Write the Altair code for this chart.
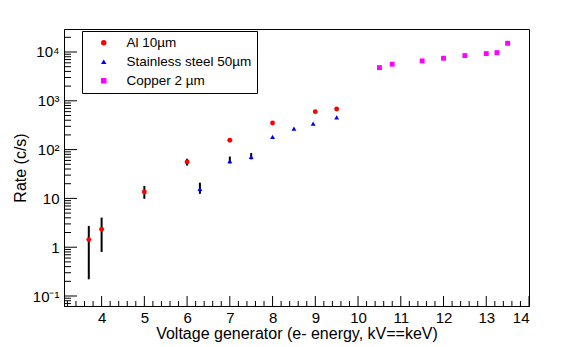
import altair as alt
import pandas as pd

# ---- data ----
series_names = ["Al 10µm", "Stainless steel 50µm", "Copper 2 µm"]
series_colors = ["#ff0000", "#0000ff", "#ff00ff"]
series_shapes = ["circle", "triangle-up", "square"]

al_x = [3.7, 4.0, 5.0, 6.0, 7.0, 8.0, 9.0, 9.5]
al_y = [1.43, 2.34, 13.6, 56, 156, 350, 600, 680]
al_lo = [0.22, 0.80, 9.8, 47, 156, 350, 600, 680]
al_hi = [2.73, 4.04, 18.0, 65, 156, 350, 600, 680]

steel_x = [6.3, 7.0, 7.5, 8.0, 8.5, 8.95, 9.5]
steel_y = [15.7, 57.8, 71, 182, 268, 342, 460]
steel_lo = [12.4, 52, 63, 182, 268, 342, 460]
steel_hi = [21.0, 72, 85, 182, 268, 342, 460]

cu_x = [10.5, 10.8, 11.5, 12.0, 12.5, 13.0, 13.25, 13.5]
cu_y = [4790, 5630, 6570, 7460, 8440, 9270, 9720, 15100]

x_major = [4, 5, 6, 7, 8, 9, 10, 11, 12, 13, 14]
x_minor = [round(3.2 + 0.2 * i, 1) for i in range(55) if round(3.2 + 0.2 * i, 1) not in x_major]
y_major = [0.1, 1, 10, 100, 1000, 10000]
y_minor = [m * 10.0 ** k for k in range(-2, 5) for m in range(2, 10)
           if 0.063 <= m * 10.0 ** k <= 29000]

x_domain = [3.12, 14.0]
y_domain = [0.0624, 29600]

W, H = 465, 277

rows = []
for name, xs, ys, lo, hi in [
    (series_names[0], al_x, al_y, al_lo, al_hi),
    (series_names[1], steel_x, steel_y, steel_lo, steel_hi),
    (series_names[2], cu_x, cu_y, cu_y, cu_y),
]:
    for a, b, c, d in zip(xs, ys, lo, hi):
        rows.append({"series": name, "x": a, "y": b, "lo": c, "hi": d})
df = pd.DataFrame(rows)

xscale = alt.Scale(domain=x_domain, nice=False, zero=False)
yscale = alt.Scale(type="log", domain=y_domain, nice=False)

label_expr = ("datum.value == 10000 ? '10⁴' : datum.value == 1000 ? '10³' : "
              "datum.value == 100 ? '10²' : datum.value == 10 ? '10' : "
              "datum.value == 1 ? '1' : '10⁻¹'")

font = "Liberation Sans"
XT = "Voltage generator (e- energy, kV==keV)"
YT = "Rate (c/s)"

x_axis = alt.Axis(title=XT, values=x_major, tickSize=0, grid=False,
                  labelFontSize=15, labelPadding=4, labelFont=font,
                  titleFont=font, titleFontSize=16, titleFontWeight="normal",
                  titleX=W / 2, titleY=27, titleBaseline="middle",
                  domainColor="black", labelColor="black", titleColor="black")
y_axis = alt.Axis(title=YT, values=y_major, labelExpr=label_expr,
                  tickSize=0, grid=False, labelFontSize=15, labelPadding=5,
                  labelFont=font, titleFont=font, titleFontSize=16,
                  titleFontWeight="normal", titleX=-44, titleY=H / 2,
                  titleAngle=-90, titleAlign="center", titleBaseline="middle",
                  domainColor="black", labelColor="black", titleColor="black")

errbars = alt.Chart(df).mark_rule(color="black", strokeWidth=2).encode(
    x=alt.X("x:Q", scale=xscale, axis=x_axis, title=XT),
    y=alt.Y("lo:Q", scale=yscale, axis=y_axis, title=YT),
    y2="hi:Q",
)

points = alt.Chart(df).mark_point(filled=True, size=24, opacity=1).encode(
    x=alt.X("x:Q", scale=xscale, axis=x_axis, title=XT),
    y=alt.Y("y:Q", scale=yscale, axis=y_axis, title=YT),
    color=alt.Color("series:N", scale=alt.Scale(domain=series_names, range=series_colors),
                    legend=alt.Legend(title=None, orient="none", legendX=18, legendY=2,
                                      strokeColor="black", fillColor="white", padding=5,
                                      labelFontSize=13.5, labelFont=font, labelColor="black",
                                      symbolSize=30, rowPadding=4, symbolOffset=10,
                                      labelOffset=16)),
    shape=alt.Shape("series:N", scale=alt.Scale(domain=series_names, range=series_shapes),
                    legend=None),
)

ytick_major = alt.Chart(pd.DataFrame({"v": y_major})).mark_rule(color="black").encode(
    y=alt.Y("v:Q", scale=yscale, axis=y_axis, title=YT), x=alt.value(0), x2=alt.value(13))
ytick_minor = alt.Chart(pd.DataFrame({"v": y_minor})).mark_rule(color="black").encode(
    y=alt.Y("v:Q", scale=yscale, axis=y_axis, title=YT), x=alt.value(0), x2=alt.value(7))
xtick_major = alt.Chart(pd.DataFrame({"v": x_major})).mark_rule(color="black").encode(
    x=alt.X("v:Q", scale=xscale, axis=x_axis, title=XT),
    y=alt.value(H), y2=alt.value(H - 10))
xtick_minor = alt.Chart(pd.DataFrame({"v": x_minor})).mark_rule(color="black").encode(
    x=alt.X("v:Q", scale=xscale, axis=x_axis, title=XT),
    y=alt.value(H), y2=alt.value(H - 5))

chart = alt.layer(errbars, points, ytick_major, ytick_minor, xtick_major, xtick_minor).properties(
    width=W, height=H,
    autosize=alt.AutoSizeParams(type="none"),
    padding={"left": 56, "top": 21, "right": 44, "bottom": 40},
    background="white",
).configure_view(stroke="black", strokeWidth=1)

chart.save("out.html", embed_options={"renderer": "svg", "actions": False})
